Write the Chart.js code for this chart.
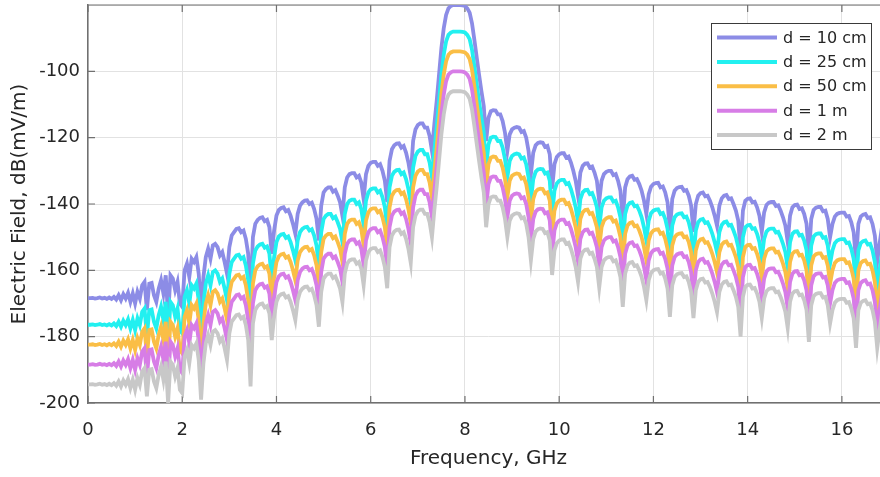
<!DOCTYPE html>
<html>
<head>
<meta charset="utf-8">
<script src="https://cdn.jsdelivr.net/npm/chart.js@4/dist/chart.umd.min.js"></script>
<style>
  html, body { margin: 0; padding: 0; background: #fff; overflow: hidden; }
  #wrap { position: relative; width: 891px; height: 477px; }
</style>
</head>
<body>
<div id="wrap"><canvas id="c"></canvas></div>
<script>
const FREQ = [
  0,0.05,0.1,0.15,0.2,0.25,0.3,0.35,0.4,0.45,0.5,0.55,0.6,0.65,0.7,0.75,0.8,0.85,0.9,0.95,
  1,1.05,1.1,1.15,1.2,1.25,1.3,1.35,1.4,1.45,1.5,1.55,1.6,1.65,1.7,1.75,1.8,1.85,1.9,1.95,
  2,2.05,2.1,2.15,2.2,2.25,2.3,2.35,2.4,2.45,2.5,2.55,2.6,2.65,2.7,2.75,2.8,2.85,2.9,2.95,
  3,3.05,3.1,3.15,3.2,3.25,3.3,3.35,3.4,3.45,3.5,3.55,3.6,3.65,3.7,3.75,3.8,3.85,3.9,3.95,
  4,4.05,4.1,4.15,4.2,4.25,4.3,4.35,4.4,4.45,4.5,4.55,4.6,4.65,4.7,4.75,4.8,4.85,4.9,4.95,
  5,5.05,5.1,5.15,5.2,5.25,5.3,5.35,5.4,5.45,5.5,5.55,5.6,5.65,5.7,5.75,5.8,5.85,5.9,5.95,
  6,6.05,6.1,6.15,6.2,6.25,6.3,6.35,6.4,6.45,6.5,6.55,6.6,6.65,6.7,6.75,6.8,6.85,6.9,6.95,
  7,7.05,7.1,7.15,7.2,7.25,7.3,7.35,7.4,7.45,7.5,7.55,7.6,7.65,7.7,7.75,7.8,7.85,7.9,7.95,
  8,8.05,8.1,8.15,8.2,8.25,8.3,8.35,8.4,8.45,8.5,8.55,8.6,8.65,8.7,8.75,8.8,8.85,8.9,8.95,
  9,9.05,9.1,9.15,9.2,9.25,9.3,9.35,9.4,9.45,9.5,9.55,9.6,9.65,9.7,9.75,9.8,9.85,9.9,9.95,
  10,10.05,10.1,10.15,10.2,10.25,10.3,10.35,10.4,10.45,10.5,10.55,10.6,10.65,10.7,10.75,10.8,10.85,10.9,10.95,
  11,11.05,11.1,11.15,11.2,11.25,11.3,11.35,11.4,11.45,11.5,11.55,11.6,11.65,11.7,11.75,11.8,11.85,11.9,11.95,
  12,12.05,12.1,12.15,12.2,12.25,12.3,12.35,12.4,12.45,12.5,12.55,12.6,12.65,12.7,12.75,12.8,12.85,12.9,12.95,
  13,13.05,13.1,13.15,13.2,13.25,13.3,13.35,13.4,13.45,13.5,13.55,13.6,13.65,13.7,13.75,13.8,13.85,13.9,13.95,
  14,14.05,14.1,14.15,14.2,14.25,14.3,14.35,14.4,14.45,14.5,14.55,14.6,14.65,14.7,14.75,14.8,14.85,14.9,14.95,
  15,15.05,15.1,15.15,15.2,15.25,15.3,15.35,15.4,15.45,15.5,15.55,15.6,15.65,15.7,15.75,15.8,15.85,15.9,15.95,
  16,16.05,16.1,16.15,16.2,16.25,16.3,16.35,16.4,16.45,16.5,16.55,16.6,16.65,16.7,16.75,16.8,16.85,16.9,16.95,
  17
];

// d = 10 cm
const E_10CM = [
  -168.4,-168.4,-168.3,-168.5,-168.4,-168.2,-168.5,-168.3,-168.6,-168.2,-168.6,-168.0,-168.8,-167.5,-169.0,-167.2,-168.5,-166.8,-169.5,-167.0,
  -170.0,-166.5,-168.5,-164.5,-163.5,-172.0,-164.0,-163.8,-167.5,-169.5,-165.5,-163.0,-167.0,-161.5,-174.0,-161.5,-162.5,-166.0,-163.5,-170.0,
  -171.0,-160.0,-158.0,-162.0,-156.5,-157.5,-156.0,-161.0,-173.0,-162.0,-156.0,-153.5,-156.5,-152.5,-152.0,-153.0,-155.5,-154.5,-157.5,-161.0,
  -153.0,-149.5,-148.5,-147.5,-147.3,-148.5,-148.0,-150.5,-155.0,-169.0,-150.0,-146.0,-144.8,-144.2,-144.0,-145.2,-144.8,-147.0,-155.0,-148.0,
  -143.5,-141.8,-141.2,-141.0,-142.2,-141.8,-143.5,-146.0,-149.0,-143.0,-140.5,-139.5,-139.0,-138.9,-140.0,-139.6,-141.5,-144.5,-151.0,-140.5,
  -136.5,-135.5,-135.0,-135.0,-136.3,-135.8,-137.5,-139.5,-143.6,-135.0,-132.0,-131.0,-130.7,-130.7,-132.0,-131.5,-133.5,-138.5,-131.0,-128.5,
  -127.6,-127.3,-127.3,-128.5,-128.0,-130.0,-133.0,-139.4,-127.0,-123.5,-122.3,-121.8,-121.7,-123.0,-122.5,-124.5,-127.5,-131.8,-121.0,-117.5,
  -116.2,-115.7,-115.7,-117.0,-117.0,-119.5,-124.0,-116.0,-109.0,-101.0,-93.0,-87.0,-83.0,-81.0,-80.3,-80.0,-80.0,-80.0,-80.0,-80.1,
  -80.3,-81.0,-82.3,-85.5,-90.5,-95.8,-101.0,-106.0,-110.5,-121.0,-114.0,-112.0,-111.7,-111.8,-113.0,-113.0,-115.0,-118.5,-124.0,-119.0,
  -117.5,-117.0,-116.8,-117.0,-118.3,-118.0,-120.0,-124.0,-131.0,-124.5,-122.3,-121.6,-121.4,-121.5,-122.8,-122.5,-125.0,-135.4,-128.0,-125.8,
  -125.0,-124.7,-124.7,-126.0,-125.7,-127.5,-130.0,-133.0,-137.5,-130.5,-128.5,-127.8,-127.7,-129.0,-128.7,-130.5,-133.0,-139.2,-133.0,-131.0,
  -130.3,-130.0,-130.0,-131.3,-131.0,-133.0,-136.0,-145.0,-135.0,-132.5,-131.7,-131.5,-132.7,-132.5,-134.0,-136.0,-139.0,-143.0,-137.0,-134.8,
  -134.0,-133.7,-133.6,-135.0,-134.7,-136.5,-139.5,-148.0,-138.5,-136.0,-135.2,-134.9,-134.8,-136.0,-135.8,-137.5,-140.5,-148.4,-140.0,-137.5,
  -136.7,-136.5,-137.7,-137.5,-139.0,-141.0,-143.5,-146.6,-140.5,-138.3,-137.5,-137.3,-138.5,-138.3,-140.0,-142.0,-145.0,-154.0,-142.0,-139.0,
  -138.4,-138.3,-139.5,-139.3,-141.0,-143.5,-148.4,-142.5,-140.3,-139.6,-139.4,-139.4,-140.6,-140.4,-142.0,-144.0,-146.5,-151.4,-143.5,-141.0,
  -140.3,-140.2,-141.5,-141.3,-143.0,-146.0,-155.6,-144.5,-141.8,-141.1,-140.9,-140.9,-142.2,-142.0,-144.5,-150.0,-146.0,-143.8,-143.0,-142.7,
  -142.6,-142.6,-143.8,-143.6,-145.5,-148.5,-157.4,-146.0,-143.8,-143.2,-143.0,-144.2,-144.0,-146.0,-149.5,-157.4,-152.0,-147.0,-145.0,-144.5,
  -144.3
];

// d = 25 cm
const E_25CM = [
  -176.4,-176.4,-176.3,-176.5,-176.4,-176.2,-176.5,-176.3,-176.6,-176.2,-176.6,-176.0,-176.8,-175.5,-177.0,-175.2,-176.5,-174.8,-177.5,-175.0,
  -178.0,-174.5,-176.5,-172.5,-171.5,-180.0,-172.0,-171.8,-175.5,-177.5,-173.5,-171.0,-175.0,-169.5,-182.0,-169.5,-170.5,-174.0,-171.5,-178.0,
  -179.0,-168.0,-166.0,-170.0,-164.5,-165.5,-164.0,-169.0,-181.0,-170.0,-164.0,-161.5,-164.5,-160.5,-160.0,-161.0,-163.5,-162.5,-165.5,-169.0,
  -161.0,-157.5,-156.5,-155.5,-155.3,-156.5,-156.0,-158.5,-163.0,-177.0,-158.0,-154.0,-152.8,-152.2,-152.0,-153.2,-152.8,-155.0,-163.0,-156.0,
  -151.5,-149.8,-149.2,-149.0,-150.2,-149.8,-151.5,-154.0,-157.0,-151.0,-148.5,-147.5,-147.0,-146.9,-148.0,-147.6,-149.5,-152.5,-159.0,-148.5,
  -144.5,-143.5,-143.0,-143.0,-144.3,-143.8,-145.5,-147.5,-151.6,-143.0,-140.0,-139.0,-138.7,-138.7,-140.0,-139.5,-141.5,-146.5,-139.0,-136.5,
  -135.6,-135.3,-135.3,-136.5,-136.0,-138.0,-141.0,-147.4,-135.0,-131.5,-130.3,-129.8,-129.7,-131.0,-130.5,-132.5,-135.5,-139.8,-129.0,-125.5,
  -124.2,-123.7,-123.7,-125.0,-125.0,-127.5,-132.0,-124.0,-117.0,-109.0,-101.0,-95.0,-91.0,-89.0,-88.3,-88.0,-88.0,-88.0,-88.0,-88.1,
  -88.3,-89.0,-90.3,-93.5,-98.5,-103.8,-109.0,-114.0,-118.5,-129.0,-122.0,-120.0,-119.7,-119.8,-121.0,-121.0,-123.0,-126.5,-132.0,-127.0,
  -125.5,-125.0,-124.8,-125.0,-126.3,-126.0,-128.0,-132.0,-139.0,-132.5,-130.3,-129.6,-129.4,-129.5,-130.8,-130.5,-133.0,-143.4,-136.0,-133.8,
  -133.0,-132.7,-132.7,-134.0,-133.7,-135.5,-138.0,-141.0,-145.5,-138.5,-136.5,-135.8,-135.7,-137.0,-136.7,-138.5,-141.0,-147.2,-141.0,-139.0,
  -138.3,-138.0,-138.0,-139.3,-139.0,-141.0,-144.0,-153.0,-143.0,-140.5,-139.7,-139.5,-140.7,-140.5,-142.0,-144.0,-147.0,-151.0,-145.0,-142.8,
  -142.0,-141.7,-141.6,-143.0,-142.7,-144.5,-147.5,-156.0,-146.5,-144.0,-143.2,-142.9,-142.8,-144.0,-143.8,-145.5,-148.5,-156.4,-148.0,-145.5,
  -144.7,-144.5,-145.7,-145.5,-147.0,-149.0,-151.5,-154.6,-148.5,-146.3,-145.5,-145.3,-146.5,-146.3,-148.0,-150.0,-153.0,-162.0,-150.0,-147.0,
  -146.4,-146.3,-147.5,-147.3,-149.0,-151.5,-156.4,-150.5,-148.3,-147.6,-147.4,-147.4,-148.6,-148.4,-150.0,-152.0,-154.5,-159.4,-151.5,-149.0,
  -148.3,-148.2,-149.5,-149.3,-151.0,-154.0,-163.6,-152.5,-149.8,-149.1,-148.9,-148.9,-150.2,-150.0,-152.5,-158.0,-154.0,-151.8,-151.0,-150.7,
  -150.6,-150.6,-151.8,-151.6,-153.5,-156.5,-165.4,-154.0,-151.8,-151.2,-151.0,-152.2,-152.0,-154.0,-157.5,-165.4,-160.0,-155.0,-153.0,-152.5,
  -152.3
];

// d = 50 cm
const E_50CM = [
  -182.4,-182.4,-182.3,-182.5,-182.4,-182.2,-182.5,-182.3,-182.6,-182.2,-182.6,-182.0,-182.8,-181.5,-183.0,-181.2,-182.5,-180.8,-183.5,-181.0,
  -184.0,-180.5,-182.5,-178.5,-177.5,-186.0,-178.0,-177.8,-181.5,-183.5,-179.5,-177.0,-181.0,-175.5,-188.0,-175.5,-176.5,-180.0,-177.5,-184.0,
  -185.0,-174.0,-172.0,-176.0,-170.5,-171.5,-170.0,-175.0,-187.0,-176.0,-170.0,-167.5,-170.5,-166.5,-166.0,-167.0,-169.5,-168.5,-171.5,-175.0,
  -167.0,-163.5,-162.5,-161.5,-161.3,-162.5,-162.0,-164.5,-169.0,-183.0,-164.0,-160.0,-158.8,-158.2,-158.0,-159.2,-158.8,-161.0,-169.0,-162.0,
  -157.5,-155.8,-155.2,-155.0,-156.2,-155.8,-157.5,-160.0,-163.0,-157.0,-154.5,-153.5,-153.0,-152.9,-154.0,-153.6,-155.5,-158.5,-165.0,-154.5,
  -150.5,-149.5,-149.0,-149.0,-150.3,-149.8,-151.5,-153.5,-157.6,-149.0,-146.0,-145.0,-144.7,-144.7,-146.0,-145.5,-147.5,-152.5,-145.0,-142.5,
  -141.6,-141.3,-141.3,-142.5,-142.0,-144.0,-147.0,-153.4,-141.0,-137.5,-136.3,-135.8,-135.7,-137.0,-136.5,-138.5,-141.5,-145.8,-135.0,-131.5,
  -130.2,-129.7,-129.7,-131.0,-131.0,-133.5,-138.0,-130.0,-123.0,-115.0,-107.0,-101.0,-97.0,-95.0,-94.3,-94.0,-94.0,-94.0,-94.0,-94.1,
  -94.3,-95.0,-96.3,-99.5,-104.5,-109.8,-115.0,-120.0,-124.5,-135.0,-128.0,-126.0,-125.7,-125.8,-127.0,-127.0,-129.0,-132.5,-138.0,-133.0,
  -131.5,-131.0,-130.8,-131.0,-132.3,-132.0,-134.0,-138.0,-145.0,-138.5,-136.3,-135.6,-135.4,-135.5,-136.8,-136.5,-139.0,-149.4,-142.0,-139.8,
  -139.0,-138.7,-138.7,-140.0,-139.7,-141.5,-144.0,-147.0,-151.5,-144.5,-142.5,-141.8,-141.7,-143.0,-142.7,-144.5,-147.0,-153.2,-147.0,-145.0,
  -144.3,-144.0,-144.0,-145.3,-145.0,-147.0,-150.0,-159.0,-149.0,-146.5,-145.7,-145.5,-146.7,-146.5,-148.0,-150.0,-153.0,-157.0,-151.0,-148.8,
  -148.0,-147.7,-147.6,-149.0,-148.7,-150.5,-153.5,-162.0,-152.5,-150.0,-149.2,-148.9,-148.8,-150.0,-149.8,-151.5,-154.5,-162.4,-154.0,-151.5,
  -150.7,-150.5,-151.7,-151.5,-153.0,-155.0,-157.5,-160.6,-154.5,-152.3,-151.5,-151.3,-152.5,-152.3,-154.0,-156.0,-159.0,-168.0,-156.0,-153.0,
  -152.4,-152.3,-153.5,-153.3,-155.0,-157.5,-162.4,-156.5,-154.3,-153.6,-153.4,-153.4,-154.6,-154.4,-156.0,-158.0,-160.5,-165.4,-157.5,-155.0,
  -154.3,-154.2,-155.5,-155.3,-157.0,-160.0,-169.6,-158.5,-155.8,-155.1,-154.9,-154.9,-156.2,-156.0,-158.5,-164.0,-160.0,-157.8,-157.0,-156.7,
  -156.6,-156.6,-157.8,-157.6,-159.5,-162.5,-171.4,-160.0,-157.8,-157.2,-157.0,-158.2,-158.0,-160.0,-163.5,-171.4,-166.0,-161.0,-159.0,-158.5,
  -158.3
];

// d = 1 m
const E_1M = [
  -188.4,-188.4,-188.3,-188.5,-188.4,-188.2,-188.5,-188.3,-188.6,-188.2,-188.6,-188.0,-188.8,-187.5,-189.0,-187.2,-188.5,-186.8,-189.5,-187.0,
  -190.0,-186.5,-188.5,-184.5,-183.5,-192.0,-184.0,-183.8,-187.5,-189.5,-185.5,-183.0,-187.0,-181.5,-194.0,-181.5,-182.5,-186.0,-183.5,-190.0,
  -191.0,-180.0,-178.0,-182.0,-176.5,-177.5,-176.0,-181.0,-193.0,-182.0,-176.0,-173.5,-176.5,-172.5,-172.0,-173.0,-175.5,-174.5,-177.5,-181.0,
  -173.0,-169.5,-168.5,-167.5,-167.3,-168.5,-168.0,-170.5,-175.0,-189.0,-170.0,-166.0,-164.8,-164.2,-164.0,-165.2,-164.8,-167.0,-175.0,-168.0,
  -163.5,-161.8,-161.2,-161.0,-162.2,-161.8,-163.5,-166.0,-169.0,-163.0,-160.5,-159.5,-159.0,-158.9,-160.0,-159.6,-161.5,-164.5,-171.0,-160.5,
  -156.5,-155.5,-155.0,-155.0,-156.3,-155.8,-157.5,-159.5,-163.6,-155.0,-152.0,-151.0,-150.7,-150.7,-152.0,-151.5,-153.5,-158.5,-151.0,-148.5,
  -147.6,-147.3,-147.3,-148.5,-148.0,-150.0,-153.0,-159.4,-147.0,-143.5,-142.3,-141.8,-141.7,-143.0,-142.5,-144.5,-147.5,-151.8,-141.0,-137.5,
  -136.2,-135.7,-135.7,-137.0,-137.0,-139.5,-144.0,-136.0,-129.0,-121.0,-113.0,-107.0,-103.0,-101.0,-100.3,-100.0,-100.0,-100.0,-100.0,-100.1,
  -100.3,-101.0,-102.3,-105.5,-110.5,-115.8,-121.0,-126.0,-130.5,-141.0,-134.0,-132.0,-131.7,-131.8,-133.0,-133.0,-135.0,-138.5,-144.0,-139.0,
  -137.5,-137.0,-136.8,-137.0,-138.3,-138.0,-140.0,-144.0,-151.0,-144.5,-142.3,-141.6,-141.4,-141.5,-142.8,-142.5,-145.0,-155.4,-148.0,-145.8,
  -145.0,-144.7,-144.7,-146.0,-145.7,-147.5,-150.0,-153.0,-157.5,-150.5,-148.5,-147.8,-147.7,-149.0,-148.7,-150.5,-153.0,-159.2,-153.0,-151.0,
  -150.3,-150.0,-150.0,-151.3,-151.0,-153.0,-156.0,-165.0,-155.0,-152.5,-151.7,-151.5,-152.7,-152.5,-154.0,-156.0,-159.0,-163.0,-157.0,-154.8,
  -154.0,-153.7,-153.6,-155.0,-154.7,-156.5,-159.5,-168.0,-158.5,-156.0,-155.2,-154.9,-154.8,-156.0,-155.8,-157.5,-160.5,-168.4,-160.0,-157.5,
  -156.7,-156.5,-157.7,-157.5,-159.0,-161.0,-163.5,-166.6,-160.5,-158.3,-157.5,-157.3,-158.5,-158.3,-160.0,-162.0,-165.0,-174.0,-162.0,-159.0,
  -158.4,-158.3,-159.5,-159.3,-161.0,-163.5,-168.4,-162.5,-160.3,-159.6,-159.4,-159.4,-160.6,-160.4,-162.0,-164.0,-166.5,-171.4,-163.5,-161.0,
  -160.3,-160.2,-161.5,-161.3,-163.0,-166.0,-175.6,-164.5,-161.8,-161.1,-160.9,-160.9,-162.2,-162.0,-164.5,-170.0,-166.0,-163.8,-163.0,-162.7,
  -162.6,-162.6,-163.8,-163.6,-165.5,-168.5,-177.4,-166.0,-163.8,-163.2,-163.0,-164.2,-164.0,-166.0,-169.5,-177.4,-172.0,-167.0,-165.0,-164.5,
  -164.3
];

// d = 2 m
const E_2M = [
  -194.4,-194.4,-194.3,-194.5,-194.4,-194.2,-194.5,-194.3,-194.6,-194.2,-194.6,-194.0,-194.8,-193.5,-195.0,-193.2,-194.5,-192.8,-195.5,-193.0,
  -196.0,-192.5,-194.5,-190.5,-189.5,-198.0,-190.0,-189.8,-193.5,-195.5,-191.5,-189.0,-193.0,-187.5,-200.0,-187.5,-188.5,-192.0,-189.5,-196.0,
  -197.0,-186.0,-184.0,-188.0,-182.5,-183.5,-182.0,-187.0,-199.0,-188.0,-182.0,-179.5,-182.5,-178.5,-178.0,-179.0,-181.5,-180.5,-183.5,-187.0,
  -179.0,-175.5,-174.5,-173.5,-173.3,-174.5,-174.0,-176.5,-181.0,-195.0,-176.0,-172.0,-170.8,-170.2,-170.0,-171.2,-170.8,-173.0,-181.0,-174.0,
  -169.5,-167.8,-167.2,-167.0,-168.2,-167.8,-169.5,-172.0,-175.0,-169.0,-166.5,-165.5,-165.0,-164.9,-166.0,-165.6,-167.5,-170.5,-177.0,-166.5,
  -162.5,-161.5,-161.0,-161.0,-162.3,-161.8,-163.5,-165.5,-169.6,-161.0,-158.0,-157.0,-156.7,-156.7,-158.0,-157.5,-159.5,-164.5,-157.0,-154.5,
  -153.6,-153.3,-153.3,-154.5,-154.0,-156.0,-159.0,-165.4,-153.0,-149.5,-148.3,-147.8,-147.7,-149.0,-148.5,-150.5,-153.5,-157.8,-147.0,-143.5,
  -142.2,-141.7,-141.7,-143.0,-143.0,-145.5,-150.0,-142.0,-135.0,-127.0,-119.0,-113.0,-109.0,-107.0,-106.3,-106.0,-106.0,-106.0,-106.0,-106.1,
  -106.3,-107.0,-108.3,-111.5,-116.5,-121.8,-127.0,-132.0,-136.5,-147.0,-140.0,-138.0,-137.7,-137.8,-139.0,-139.0,-141.0,-144.5,-150.0,-145.0,
  -143.5,-143.0,-142.8,-143.0,-144.3,-144.0,-146.0,-150.0,-157.0,-150.5,-148.3,-147.6,-147.4,-147.5,-148.8,-148.5,-151.0,-161.4,-154.0,-151.8,
  -151.0,-150.7,-150.7,-152.0,-151.7,-153.5,-156.0,-159.0,-163.5,-156.5,-154.5,-153.8,-153.7,-155.0,-154.7,-156.5,-159.0,-165.2,-159.0,-157.0,
  -156.3,-156.0,-156.0,-157.3,-157.0,-159.0,-162.0,-171.0,-161.0,-158.5,-157.7,-157.5,-158.7,-158.5,-160.0,-162.0,-165.0,-169.0,-163.0,-160.8,
  -160.0,-159.7,-159.6,-161.0,-160.7,-162.5,-165.5,-174.0,-164.5,-162.0,-161.2,-160.9,-160.8,-162.0,-161.8,-163.5,-166.5,-174.4,-166.0,-163.5,
  -162.7,-162.5,-163.7,-163.5,-165.0,-167.0,-169.5,-172.6,-166.5,-164.3,-163.5,-163.3,-164.5,-164.3,-166.0,-168.0,-171.0,-180.0,-168.0,-165.0,
  -164.4,-164.3,-165.5,-165.3,-167.0,-169.5,-174.4,-168.5,-166.3,-165.6,-165.4,-165.4,-166.6,-166.4,-168.0,-170.0,-172.5,-177.4,-169.5,-167.0,
  -166.3,-166.2,-167.5,-167.3,-169.0,-172.0,-181.6,-170.5,-167.8,-167.1,-166.9,-166.9,-168.2,-168.0,-170.5,-176.0,-172.0,-169.8,-169.0,-168.7,
  -168.6,-168.6,-169.8,-169.6,-171.5,-174.5,-183.4,-172.0,-169.8,-169.2,-169.0,-170.2,-170.0,-172.0,-175.5,-183.4,-178.0,-173.0,-171.0,-170.5,
  -170.3
];

const LABELS = ["d = 10 cm", "d = 25 cm", "d = 50 cm", "d = 1 m", "d = 2 m"];
const COLORS = ["#8c8ce6", "#22f0f0", "#fabe46", "#d77de6", "#c8c8c8"];
const SERIES = [E_10CM, E_25CM, E_50CM, E_1M, E_2M];

const TEXT = "#262626";
const AXIS = "#707070";
const FONT = "'DejaVu Sans', sans-serif";

// top edge of the box and inward ticks, matlab style
const axesFrame = {
  id: "axesFrame",
  beforeDatasetsDraw(chart) {
    const { ctx, chartArea: a, scales } = chart;
    ctx.save();
    ctx.strokeStyle = AXIS;
    ctx.lineWidth = 1.2;
    ctx.beginPath();
    ctx.moveTo(a.left, a.top); ctx.lineTo(a.right, a.top); ctx.lineTo(a.right, a.bottom);
    for (const t of scales.x.ticks) {
      const px = scales.x.getPixelForValue(t.value);
      ctx.moveTo(px, a.bottom); ctx.lineTo(px, a.bottom - 7);
      ctx.moveTo(px, a.top); ctx.lineTo(px, a.top + 7);
    }
    for (const t of scales.y.ticks) {
      const py = scales.y.getPixelForValue(t.value);
      ctx.moveTo(a.left, py); ctx.lineTo(a.left + 7, py);
      ctx.moveTo(a.right, py); ctx.lineTo(a.right - 7, py);
    }
    ctx.stroke();
    ctx.restore();
  },
};

// legend box in the upper right corner of the axes
const legendBox = {
  id: "legendBox",
  afterDraw(chart) {
    const ctx = chart.ctx;
    const x0 = 711, y0 = 23, w = 160, h = 126;
    ctx.save();
    ctx.fillStyle = "#fff";
    ctx.fillRect(x0, y0, w, h);
    ctx.strokeStyle = "#3a3a3a";
    ctx.lineWidth = 1;
    ctx.strokeRect(x0 + 0.5, y0 + 0.5, w, h);
    ctx.font = "16px " + FONT;
    ctx.textBaseline = "middle";
    chart.data.datasets.forEach(function (ds, i) {
      const y = 37.5 + i * 24.4;
      ctx.strokeStyle = ds.borderColor;
      ctx.lineWidth = 4;
      ctx.beginPath();
      ctx.moveTo(717, y);
      ctx.lineTo(777, y);
      ctx.stroke();
      ctx.fillStyle = TEXT;
      ctx.fillText(ds.label, 783, y + 1);
    });
    ctx.restore();
  },
};

new Chart(document.getElementById("c"), {
  type: "line",
  data: {
    labels: FREQ,
    datasets: SERIES.map(function (s, i) {
      return {
        label: LABELS[i],
        data: s,
        borderColor: COLORS[i],
        backgroundColor: COLORS[i],
        borderWidth: 3.8,
        pointRadius: 0,
        tension: 0,
        order: SERIES.length - i, // later curves on top, like matlab
      };
    }),
  },
  options: {
    responsive: true,
    maintainAspectRatio: false,
    animation: false,
    devicePixelRatio: 1,
    layout: { padding: { top: 5, right: 2, left: 0, bottom: 0 } },
    scales: {
      x: {
        type: "linear",
        min: 0,
        max: 17,
        afterFit(s) { s.height = 74; s.paddingLeft = 0; s.paddingRight = 0; },
        ticks: { stepSize: 2, includeBounds: false, padding: 17, color: TEXT, font: { family: FONT, size: 18 } },
        grid: { color: "#e2e2e2", drawTicks: false },
        border: { color: AXIS, width: 1.5 },
        title: { display: true, text: "Frequency, GHz", color: TEXT, font: { family: FONT, size: 20 }, padding: { top: 0, bottom: 6 } },
      },
      y: {
        min: -200,
        max: -80,
        afterFit(s) { s.width = 88; s.paddingTop = 0; s.paddingBottom = 0; },
        ticks: {
          stepSize: 20,
          padding: 8,
          color: TEXT,
          font: { family: FONT, size: 18 },
          callback: v => (v === -80 ? "" : String(v)),
        },
        grid: { color: "#e2e2e2", drawTicks: false },
        border: { color: AXIS, width: 1.5 },
        title: { display: true, text: "Electric Field, dB(mV/m)", color: TEXT, font: { family: FONT, size: 20 }, padding: { top: 8, bottom: 0 } },
      },
    },
    plugins: {
      legend: { display: false },
      tooltip: { enabled: false },
    },
  },
  plugins: [axesFrame, legendBox],
});
</script>
</body>
</html>
